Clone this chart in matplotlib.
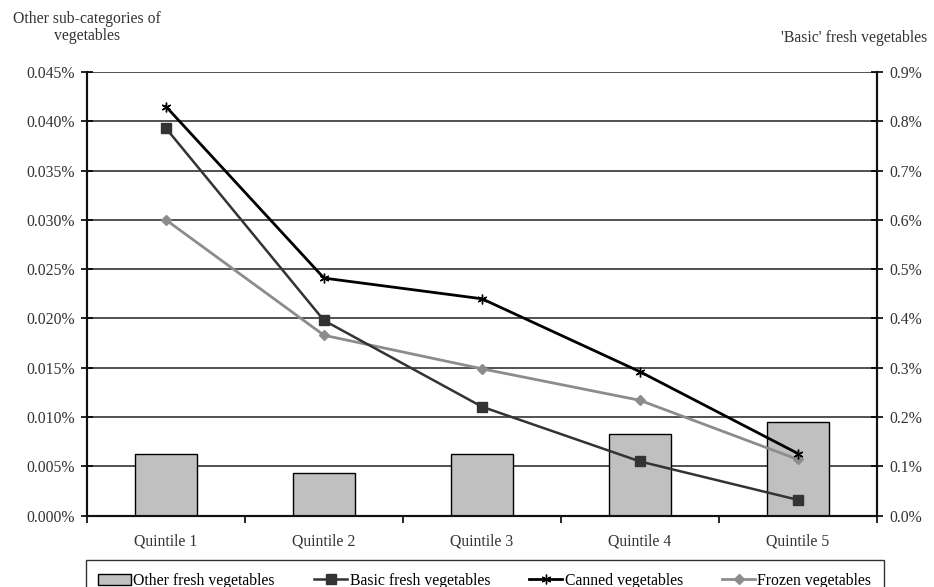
import numpy as np
import matplotlib
matplotlib.use('Agg')
import matplotlib.pyplot as plt
from matplotlib.ticker import FuncFormatter, MultipleLocator

plt.rcParams['font.family'] = ['Liberation Serif', 'DejaVu Serif']

quintiles = ['Quintile 1', 'Quintile 2', 'Quintile 3', 'Quintile 4', 'Quintile 5']

# left axis (in %)
other_fresh = [0.0063, 0.0043, 0.0063, 0.0083, 0.0095]
canned = [0.0415, 0.0241, 0.0220, 0.0146, 0.0063]
frozen = [0.0300, 0.0183, 0.0149, 0.0117, 0.0057]
# right axis (in %)
basic_fresh = [0.786, 0.396, 0.221, 0.110, 0.032]

text_col = '#333333'
fs = 11.3

fig = plt.figure(figsize=(9.34, 5.87), dpi=100)
ax = fig.add_axes([0.0931, 0.1215, 0.8459, 0.7558])
ax2 = ax.twinx()

x = np.arange(len(quintiles))

bars = ax.bar(x, other_fresh, width=0.39, color='#c0c0c0', edgecolor='black', linewidth=1,
              zorder=2, label='Other fresh vegetables')
l_basic, = ax2.plot(x, basic_fresh, color='#333333', lw=1.8, marker='s', ms=7,
                    label='Basic fresh vegetables', zorder=3)
l_canned, = ax.plot(x, canned, color='black', lw=2, marker=(6, 2, 0), ms=7,
                    mew=1, label='Canned vegetables', zorder=4)
l_frozen, = ax.plot(x, frozen, color='#8c8c8c', lw=2, marker='D', ms=5,
                    label='Frozen vegetables', zorder=3)

ax.set_xlim(-0.5, 4.5)
ax.set_ylim(0, 0.045)
ax2.set_ylim(0, 0.9)

ax.yaxis.set_major_locator(MultipleLocator(0.005))
ax2.yaxis.set_major_locator(MultipleLocator(0.1))
ax.yaxis.set_major_formatter(FuncFormatter(lambda v, p: '{:.3f}%'.format(v)))
ax2.yaxis.set_major_formatter(FuncFormatter(lambda v, p: '{:.1f}%'.format(v)))

ax.yaxis.grid(True, color='#222222', lw=1.1, zorder=0)
ax.set_axisbelow(True)

ax.set_xticks(x)
ax.set_xticklabels(quintiles)
ax.set_xticks(np.arange(-0.5, 5, 1), minor=True)
ax.tick_params(axis='x', which='major', length=0, pad=13, labelsize=fs, labelcolor=text_col)
ax.tick_params(axis='x', which='minor', length=5, width=1.2, direction='out')
ax.tick_params(axis='y', direction='inout', length=8, width=1.2, labelsize=fs,
               labelcolor=text_col, pad=4.5)
ax2.tick_params(axis='y', direction='inout', length=8, width=1.2, labelsize=fs,
                labelcolor=text_col, pad=5)

for a in (ax, ax2):
    a.spines['top'].set_visible(False)
    for s in ('left', 'right', 'bottom'):
        a.spines[s].set_linewidth(1.5)
        a.spines[s].set_color('#111111')

fig.text(0.093, 0.982, 'Other sub-categories of\nvegetables', ha='center', va='top',
         fontsize=fs, color=text_col, linespacing=1.15)
fig.text(0.993, 0.935, "'Basic' fresh vegetables", ha='right', va='center',
         fontsize=fs, color=text_col)

handles = [bars, l_basic, l_canned, l_frozen]
labels = ['Other fresh vegetables', 'Basic fresh vegetables', 'Canned vegetables',
          'Frozen vegetables']
leg = fig.legend(handles, labels, loc='upper center',
                 bbox_to_anchor=(0.519, 0.046), ncol=4, frameon=True, fancybox=False,
                 edgecolor='black', fontsize=fs, handlelength=2.1, handletextpad=0.15,
                 columnspacing=2.5, borderpad=0.8, borderaxespad=0)
leg.get_frame().set_linewidth(1)

fig.savefig('out.png', dpi=100)
